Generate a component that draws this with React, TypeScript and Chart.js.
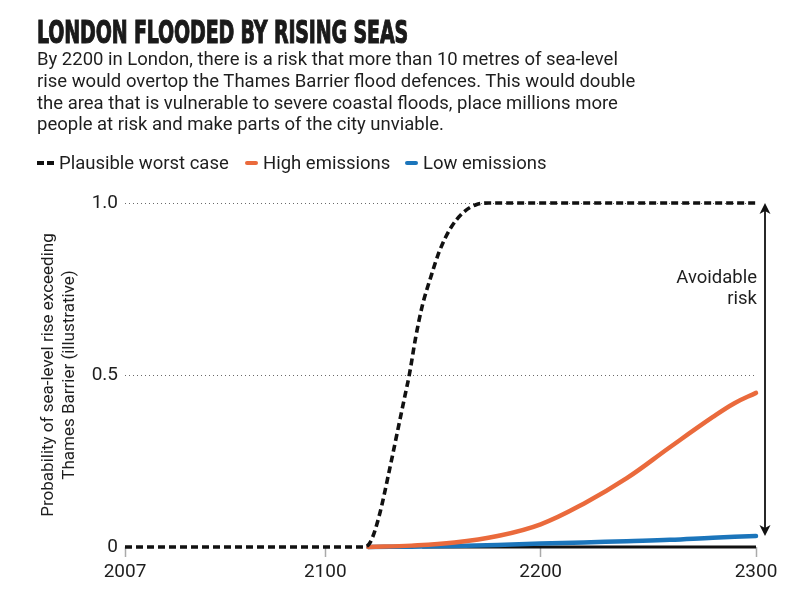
import React, { useEffect, useLayoutEffect, useRef } from 'react';
import { Chart, registerables } from 'chart.js';

Chart.register(...registerables);

// ---------- data ----------
const titleText = 'LONDON FLOODED BY RISING SEAS';
const subtitleLines = [
  'By 2200 in London, there is a risk that more than 10 metres of sea-level',
  'rise would overtop the Thames Barrier flood defences. This would double',
  'the area that is vulnerable to severe coastal floods, place millions more',
  'people at risk and make parts of the city unviable.',
];
const seriesNames = ['Plausible worst case', 'High emissions', 'Low emissions'];
const yAxisTitle = ['Probability of sea-level rise exceeding', 'Thames Barrier (illustrative)'];
const annotationLines = ['Avoidable', 'risk'];

const xTicks = [2007, 2100, 2200, 2300];
const yTicks = [0, 0.5, 1.0];

const worstYears = [2007, 2118, 2121, 2125, 2130, 2134, 2137, 2139, 2142, 2145, 2149, 2153, 2158, 2164, 2170, 2176, 2300];
const worstValues = [0, 0, 0.015, 0.09, 0.23, 0.35, 0.44, 0.5, 0.61, 0.7, 0.785, 0.86, 0.925, 0.972, 0.995, 1.0, 1.0];

const highYears = [2120, 2140, 2160, 2180, 2200, 2220, 2240, 2260, 2280, 2290, 2300];
const highValues = [0, 0.004, 0.013, 0.032, 0.066, 0.126, 0.2, 0.29, 0.378, 0.418, 0.448];

const lowYears = [2120, 2140, 2160, 2180, 2200, 2220, 2240, 2260, 2280, 2300];
const lowValues = [0, 0.001, 0.003, 0.006, 0.01, 0.013, 0.017, 0.021, 0.027, 0.032];

const baseYears = [2145, 2300];
const baseValues = [0, 0];

// ---------- styles ----------
const BLACK = '#111111';
const ORANGE = '#EA6A3C';
const BLUE = '#1B75BB';
const TEXT = '#1e1e1e';
const FONT = "Roboto, 'Noto Sans', sans-serif";

const toPoints = (xs: number[], ys: number[]) => xs.map((x, i) => ({ x, y: ys[i] }));

const arrowPlugin = {
  id: 'avoidableArrow',
  afterDatasetsDraw(chart: any) {
    const { ctx, scales } = chart;
    const xs = scales.x;
    const ys = scales.y;
    const xEnd = xs.getPixelForValue(2300);
    const ax = xEnd + 9;
    const yTop = ys.getPixelForValue(worstValues[worstValues.length - 1]);
    const yBot = ys.getPixelForValue(lowValues[lowValues.length - 1]);
    ctx.save();
    ctx.strokeStyle = BLACK;
    ctx.fillStyle = BLACK;
    ctx.lineWidth = 1.8;
    ctx.beginPath();
    ctx.moveTo(ax, yTop + 6);
    ctx.lineTo(ax, yBot - 6);
    ctx.stroke();
    ctx.beginPath();
    ctx.moveTo(ax, yTop);
    ctx.lineTo(ax - 5.5, yTop + 11);
    ctx.lineTo(ax, yTop + 8);
    ctx.lineTo(ax + 5.5, yTop + 11);
    ctx.closePath();
    ctx.fill();
    ctx.beginPath();
    ctx.moveTo(ax, yBot);
    ctx.lineTo(ax - 5.5, yBot - 11);
    ctx.lineTo(ax, yBot - 8);
    ctx.lineTo(ax + 5.5, yBot - 11);
    ctx.closePath();
    ctx.fill();
    ctx.font = `18.5px ${FONT}`;
    ctx.fillStyle = TEXT;
    ctx.textAlign = 'right';
    ctx.textBaseline = 'alphabetic';
    const y0 = ys.getPixelForValue(0.767);
    annotationLines.forEach((t, i) => ctx.fillText(t, xEnd + 1, y0 + i * 21));
    ctx.restore();
  },
};

function ChartCanvas() {
  const ref = useRef<HTMLCanvasElement | null>(null);
  useEffect(() => {
    if (!ref.current) return;
    Chart.defaults.font.family = FONT;
    const chart = new Chart(ref.current, {
      type: 'line',
      data: {
        datasets: [
          {
            label: seriesNames[0],
            data: toPoints(worstYears, worstValues),
            borderColor: BLACK,
            borderWidth: 3.6,
            borderDash: [7, 4],
            cubicInterpolationMode: 'monotone',
            pointRadius: 0,
            fill: false,
            clip: 8,
          },
          {
            label: seriesNames[1],
            data: toPoints(highYears, highValues),
            borderColor: ORANGE,
            borderWidth: 4.5,
            borderCapStyle: 'round',
            tension: 0.4,
            pointRadius: 0,
            fill: false,
            clip: 8,
          },
          {
            label: seriesNames[2],
            data: toPoints(lowYears, lowValues),
            borderColor: BLUE,
            borderWidth: 4.5,
            borderCapStyle: 'round',
            tension: 0.4,
            pointRadius: 0,
            fill: false,
            clip: 8,
          },
          {
            label: 'baseline',
            data: toPoints(baseYears, baseValues),
            borderColor: BLACK,
            borderWidth: 3,
            pointRadius: 0,
            fill: false,
            clip: 8,
          },
        ],
      },
      options: {
        responsive: false,
        animation: false,
        events: [],
        layout: { padding: { left: 0, right: 50, top: 203, bottom: 0 } },
        plugins: { legend: { display: false }, tooltip: { enabled: false }, title: { display: false } },
        scales: {
          x: {
            type: 'linear',
            min: 2007,
            max: 2300,
            afterBuildTicks: (s: any) => {
              s.ticks = xTicks.map((v) => ({ value: v }));
            },
            afterFit: (s: any) => {
              s.height = 57;
            },
            grid: {
              drawOnChartArea: false,
              drawTicks: true,
              tickLength: 10,
              tickColor: '#aaaaaa',
              tickWidth: 1.5,
              color: 'rgba(0,0,0,0)',
            },
            border: { display: false },
            ticks: {
              autoSkip: false,
              maxRotation: 0,
              padding: 4,
              color: TEXT,
              font: { size: 19 },
              callback: (v: any) => String(v),
            },
          },
          y: {
            type: 'linear',
            min: 0,
            max: 1,
            afterBuildTicks: (s: any) => {
              s.ticks = yTicks.map((v) => ({ value: v }));
            },
            afterFit: (s: any) => {
              s.width = 125;
            },
            grid: {
              drawTicks: false,
              lineWidth: 1,
              color: (c: any) => (c.tick && c.tick.value === 0 ? 'rgba(0,0,0,0)' : '#6a6a6a'),
            },
            border: { display: false, dash: [1, 3] },
            ticks: {
              padding: 7,
              color: TEXT,
              font: { size: 19 },
              callback: (v: any) => (v === 0 ? '0' : Number(v).toFixed(1)),
            },
            title: {
              display: true,
              text: yAxisTitle,
              color: TEXT,
              font: { size: 17, lineHeight: 1.25 },
              padding: { top: 38, bottom: 0 },
            },
          },
        },
      },
      plugins: [arrowPlugin],
    } as any);
    return () => chart.destroy();
  }, []);
  return (
    <canvas
      ref={ref}
      width={806}
      height={604}
      style={{ position: 'absolute', left: 0, top: 0, width: 806, height: 604 }}
    />
  );
}

function FitTitle() {
  const ref = useRef<HTMLSpanElement | null>(null);
  useLayoutEffect(() => {
    const el = ref.current;
    if (!el) return;
    el.style.transform = 'none';
    const w = el.getBoundingClientRect().width;
    if (w > 0) el.style.transform = `scaleX(${371 / w})`;
  }, []);
  return (
    <span
      ref={ref}
      style={{
        position: 'absolute',
        left: 37,
        top: 16,
        whiteSpace: 'nowrap',
        display: 'inline-block',
        transformOrigin: 'left top',
        fontFamily: "'Liberation Sans Narrow', 'DejaVu Sans Condensed', sans-serif",
        fontWeight: 700,
        fontSize: 32,
        lineHeight: '32px',
        color: '#1a1a1a',
        WebkitTextStroke: '1.1px #1a1a1a',
        letterSpacing: -0.2,
      }}
    >
      {titleText}
    </span>
  );
}

const swatchBase: React.CSSProperties = { position: 'absolute', top: 161, height: 4, borderRadius: 2 };
const legendText: React.CSSProperties = {
  position: 'absolute',
  top: 152,
  fontFamily: FONT,
  fontSize: 18.5,
  lineHeight: '22px',
  color: TEXT,
  whiteSpace: 'nowrap',
};

export default function App() {
  return (
    <div style={{ position: 'fixed', left: 0, top: 0, width: 806, height: 604, background: '#fff', overflow: 'hidden' }}>
      <ChartCanvas />
      <FitTitle />
      <div style={{ position: 'absolute', left: 37, top: 49.3, fontFamily: FONT, fontSize: 18.5, lineHeight: '21.7px', color: TEXT }}>
        {subtitleLines.map((l, i) => (
          <div key={i} style={{ whiteSpace: 'nowrap' }}>
            {l}
          </div>
        ))}
      </div>
      <div style={{ ...swatchBase, left: 37, width: 6.5, background: BLACK, borderRadius: 0 }} />
      <div style={{ ...swatchBase, left: 47, width: 6.5, background: BLACK, borderRadius: 0 }} />
      <span style={{ ...legendText, left: 59 }}>{seriesNames[0]}</span>
      <div style={{ ...swatchBase, left: 245, width: 13, background: ORANGE }} />
      <span style={{ ...legendText, left: 263 }}>{seriesNames[1]}</span>
      <div style={{ ...swatchBase, left: 405, width: 13, background: BLUE }} />
      <span style={{ ...legendText, left: 423 }}>{seriesNames[2]}</span>
    </div>
  );
}
